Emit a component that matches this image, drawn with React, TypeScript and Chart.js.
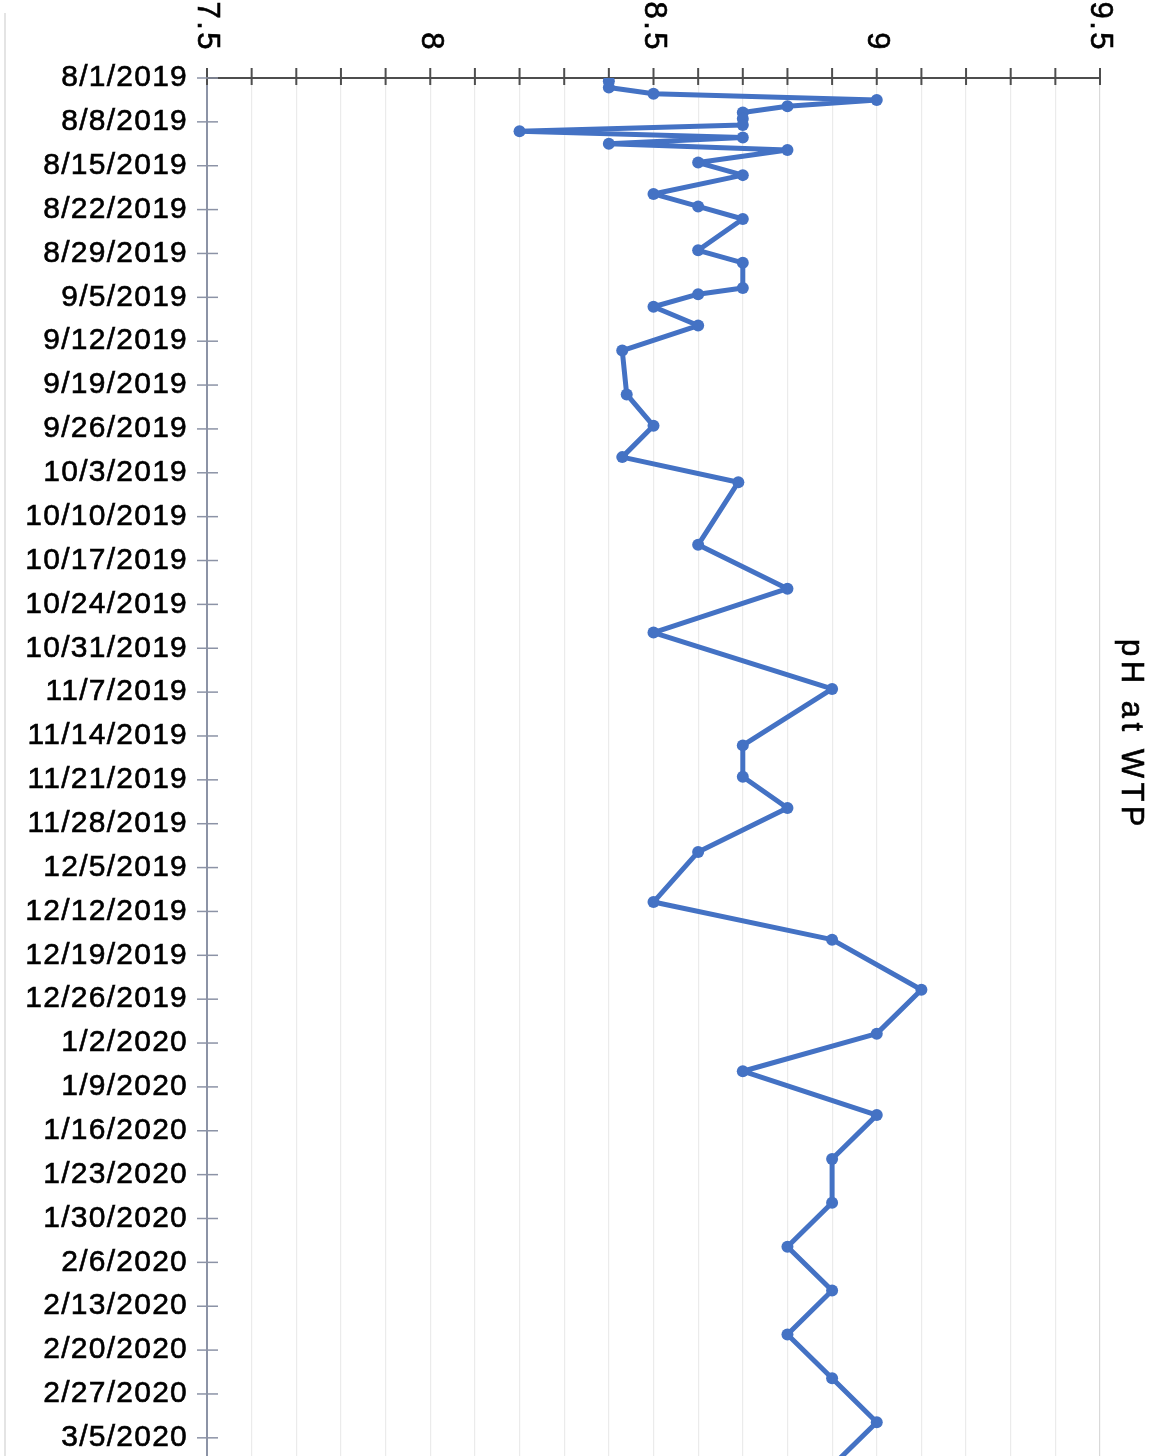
import React, { useEffect, useRef } from 'react';
import { Chart, registerables } from 'chart.js';

Chart.register(...registerables);

// Sample dates (m/d/yyyy) and pH readings at the WTP
const sampleDates = [
  '8/1/2019', '8/2/2019', '8/3/2019', '8/4/2019', '8/5/2019', '8/6/2019', '8/7/2019', '8/8/2019',
  '8/9/2019', '8/10/2019', '8/11/2019', '8/12/2019', '8/14/2019', '8/16/2019', '8/19/2019',
  '8/21/2019', '8/23/2019', '8/28/2019', '8/30/2019', '9/3/2019', '9/4/2019', '9/6/2019',
  '9/9/2019', '9/13/2019', '9/20/2019', '9/25/2019', '9/30/2019', '10/4/2019', '10/14/2019',
  '10/21/2019', '10/28/2019', '11/6/2019', '11/15/2019', '11/20/2019', '11/25/2019', '12/2/2019',
  '12/10/2019', '12/16/2019', '12/24/2019', '12/31/2019', '1/6/2020', '1/13/2020', '1/20/2020',
  '1/27/2020', '2/3/2020', '2/10/2020', '2/17/2020', '2/24/2020', '3/2/2020', '3/9/2020',
];
const phValues = [
  8.4, 8.4, 8.5, 9.0, 8.8, 8.7, 8.7, 8.7,
  8.2, 8.7, 8.4, 8.8, 8.6, 8.7, 8.5,
  8.6, 8.7, 8.6, 8.7, 8.7, 8.6, 8.5,
  8.6, 8.43, 8.44, 8.5, 8.43, 8.69, 8.6,
  8.8, 8.5, 8.9, 8.7, 8.7, 8.8, 8.6,
  8.5, 8.9, 9.1, 9.0, 8.7, 9.0, 8.9,
  8.9, 8.8, 8.9, 8.8, 8.9, 9.0, 8.9,
];
const phTickLabels = ['7.5', '8', '8.5', '9', '9.5'];
const phMin = 7.5;
const phMax = 9.5;
const phMinorStep = 0.1;
const startDate = '8/1/2019';
const dateStepDays = 7;
const visibleDays = 219.9;
const readingHour = 12;
const axisTitle = 'pH at WTP';

const DAY_MS = 86400000;
const parseDate = (s: string) => {
  const [m, d, y] = s.split('/').map(Number);
  return Date.UTC(y, m - 1, d);
};
const BASE = parseDate(startDate);
const toDay = (s: string) => (parseDate(s) - BASE) / DAY_MS + readingHour / 24;
const fmtDay = (v: number) => {
  const dt = new Date(BASE + Math.round(v) * DAY_MS);
  return `${dt.getUTCMonth() + 1}/${dt.getUTCDate()}/${dt.getUTCFullYear()}`;
};

const FONT = '"Liberation Sans", Arial, Helvetica, sans-serif';
const LABEL_SPACING = '1.25px';

const decorPlugin = {
  id: 'decor',
  beforeDraw(chart: any) {
    const ctx = chart.ctx;
    ctx.save();
    ctx.strokeStyle = '#e4e4e4';
    ctx.lineWidth = 2;
    ctx.beginPath();
    ctx.moveTo(5, 13);
    ctx.lineTo(5, chart.height);
    ctx.stroke();
    ctx.restore();
    ctx.letterSpacing = LABEL_SPACING;
  },
  beforeDatasetsDraw(chart: any) {
    const { ctx, chartArea } = chart;
    const x = chart.scales.x;
    const y = chart.scales.y;
    ctx.save();
    ctx.strokeStyle = '#4e4e4e';
    ctx.lineWidth = 2;
    x.ticks.forEach((t: any) => {
      const px = x.getPixelForValue(t.value);
      ctx.beginPath();
      ctx.moveTo(px, chartArea.top - 10);
      ctx.lineTo(px, chartArea.top + 7);
      ctx.stroke();
    });
    ctx.strokeStyle = '#8c93a6';
    ctx.lineWidth = 1.5;
    y.ticks.forEach((t: any) => {
      const py = y.getPixelForValue(t.value);
      ctx.beginPath();
      ctx.moveTo(chartArea.left - 10, py);
      ctx.lineTo(chartArea.left + 11, py);
      ctx.stroke();
    });
    ctx.fillStyle = '#000';
    ctx.strokeStyle = '#000';
    ctx.lineWidth = 0.6;
    ctx.font = `31px ${FONT}`;
    ctx.letterSpacing = '2.5px';
    ctx.textAlign = 'right';
    ctx.textBaseline = 'middle';
    phTickLabels.forEach((lbl) => {
      const px = x.getPixelForValue(parseFloat(lbl));
      ctx.save();
      ctx.translate(px, chartArea.top - 26);
      ctx.rotate(Math.PI / 2);
      ctx.fillText(lbl, 0, 0);
      ctx.strokeText(lbl, 0, 0);
      ctx.restore();
    });
    ctx.font = `31px ${FONT}`;
    ctx.letterSpacing = '4.5px';
    ctx.textAlign = 'center';
    ctx.save();
    ctx.translate(chartArea.right + 31, 735);
    ctx.rotate(Math.PI / 2);
    ctx.fillText(axisTitle, 0, 0);
    ctx.strokeText(axisTitle, 0, 0);
    ctx.restore();
    ctx.restore();
  },
  afterDraw(chart: any) {
    chart.ctx.letterSpacing = '0px';
  },
};

export default function App() {
  const ref = useRef<HTMLCanvasElement | null>(null);
  useEffect(() => {
    document.body.style.margin = '0';
    const canvas = ref.current;
    if (!canvas) return;
    const points = sampleDates.map((d, i) => ({ x: phValues[i], y: toDay(d) }));
    const chart = new Chart(canvas, {
      type: 'line',
      data: {
        datasets: [
          {
            data: points,
            borderColor: '#4472C4',
            backgroundColor: '#4472C4',
            borderWidth: 5,
            pointRadius: 6,
            pointBorderWidth: 0,
            pointHoverRadius: 6,
            tension: 0,
            fill: false,
            borderJoinStyle: 'round',
            borderCapStyle: 'round',
          },
        ],
      },
      options: {
        responsive: false,
        animation: false,
        events: [],
        layout: { autoPadding: false, padding: { top: 0, right: 61, bottom: 0, left: 0 } },
        plugins: { legend: { display: false }, tooltip: { enabled: false }, title: { display: false } },
        scales: {
          x: {
            type: 'linear',
            position: 'top',
            min: phMin,
            max: phMax,
            ticks: { display: false, stepSize: phMinorStep },
            grid: {
              color: (c: any) => (c.tick && Math.abs(c.tick.value - phMax) < 1e-6 ? '#d9d9d9' : '#ebebeb'),
              lineWidth: 1.2,
              drawTicks: false,
            },
            border: { display: true, color: '#4e4e4e', width: 2 },
            afterFit: (s: any) => {
              s.height = 78;
              s.paddingLeft = 0;
              s.paddingRight = 0;
            },
          },
          y: {
            type: 'linear',
            position: 'left',
            reverse: true,
            min: 0,
            max: visibleDays,
            afterBuildTicks: (s: any) => {
              const ticks = [];
              for (let v = 0; v <= visibleDays; v += dateStepDays) ticks.push({ value: v });
              s.ticks = ticks;
            },
            ticks: {
              stepSize: dateStepDays,
              autoSkip: false,
              padding: 11,
              color: '#000',
              textStrokeColor: '#000',
              textStrokeWidth: 0.6,
              font: { family: FONT, size: 30 },
              callback: (v: any) => fmtDay(Number(v)),
            },
            grid: { display: false },
            border: { display: true, color: '#8c93a6', width: 2 },
            afterFit: (s: any) => {
              s.width = 207;
              s.paddingTop = 0;
              s.paddingBottom = 0;
            },
          },
        },
      },
      plugins: [decorPlugin],
    } as any);
    return () => chart.destroy();
  }, []);
  return <canvas ref={ref} width={1161} height={1456} style={{ display: 'block' }} />;
}
